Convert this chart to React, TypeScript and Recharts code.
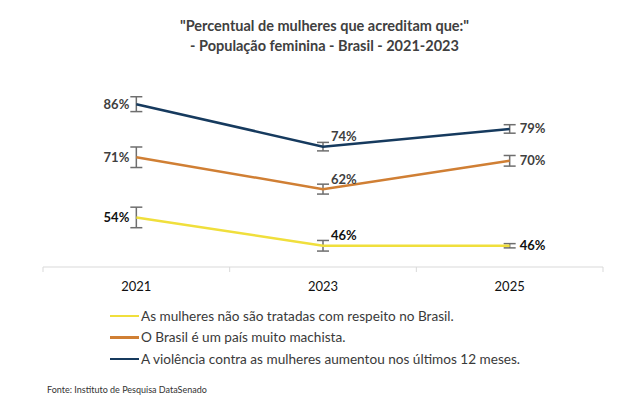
import React from 'react';
import { LineChart, Line, XAxis, YAxis, ErrorBar, LabelList } from 'recharts';

const years = ['2021', '2023', '2025'];
const respeito = [54, 46, 46];
const machista = [71, 62, 70];
const violencia = [86, 74, 79];
const respeitoErr = [2.9, 1.5, 0.6];
const machistaErr = [2.9, 1.4, 1.5];
const violenciaErr = [2.1, 1.2, 1.2];
const seriesNames = [
  'As mulheres não são tratadas com respeito no Brasil.',
  'O Brasil é um país muito machista.',
  'A violência contra as mulheres aumentou nos últimos 12 meses.',
];
const colors = ['#f0df3c', '#d07f34', '#163a5e'];
const labelColors = ['#111111', '#404040', '#404040'];

const data = years.map((y, i) => ({
  year: y,
  s0: respeito[i],
  s1: machista[i],
  s2: violencia[i],
  e0: respeitoErr[i],
  e1: machistaErr[i],
  e2: violenciaErr[i],
}));

const FONT = 'Lato, "Open Sans", sans-serif';
const PLOT_LEFT = 43;
const PLOT_RIGHT = 603;
const BAND = (PLOT_RIGHT - PLOT_LEFT) / years.length;

const makeLabel = (color: string) => (props: any) => {
  const { x, y, index, value } = props;
  let tx = x, ty = y, anchor: any = 'start';
  if (index === 0) { tx = x - 7; ty = y; anchor = 'end'; }
  else if (index === 1) { tx = x + 8; ty = y - 10; anchor = 'start'; }
  else { tx = x + 10; ty = y; anchor = 'start'; }
  return (
    <text x={tx} y={ty} dy="0.35em" textAnchor={anchor} fontFamily={FONT} fontSize={13} fontWeight={700} fill={color}>
      {value}%
    </text>
  );
};

const Tick = (props: any) => {
  const { x, payload, index } = props;
  return (
    <g>
      <line x1={x - BAND / 2} x2={x - BAND / 2} y1={267} y2={272} stroke="#d9d9d9" />
      {index === years.length - 1 && (
        <line x1={x + BAND / 2} x2={x + BAND / 2} y1={267} y2={272} stroke="#d9d9d9" />
      )}
      <text x={x} y={291} textAnchor="middle" fontFamily={FONT} fontSize={13} fill="#111">
        {payload.value}
      </text>
    </g>
  );
};

export default function App() {
  return (
    <div style={{ position: 'absolute', left: 0, top: 0, width: 631, height: 399, background: '#fff', fontFamily: FONT }}>
      <div style={{ position: 'absolute', left: 0, width: 649, top: 16, textAlign: 'center', fontSize: 14.5, fontWeight: 700, color: '#404040', lineHeight: '20px' }}>
        <div>"Percentual de mulheres que acreditam que:"</div>
        <div>- População feminina - Brasil - 2021-2023</div>
      </div>
      <LineChart width={631} height={399} data={data} margin={{ top: 90, right: 631 - PLOT_RIGHT, left: PLOT_LEFT, bottom: 102 }}>
        <XAxis dataKey="year" scale="band" axisLine={{ stroke: '#d9d9d9' }} tickLine={false} height={30} tick={<Tick />} interval={0} />
        <YAxis hide domain={[40, 90]} />
        {[0, 1, 2].map((k) => (
          <Line key={k} type="linear" dataKey={`s${k}`} stroke={colors[k]} strokeWidth={2.5} dot={false} isAnimationActive={false}>
            <ErrorBar dataKey={`e${k}`} width={6} stroke="#6e6e6e" strokeWidth={1.5} direction="y" />
            <LabelList dataKey={`s${k}`} content={makeLabel(labelColors[k])} />
          </Line>
        ))}
      </LineChart>
      <div style={{ position: 'absolute', left: 110, top: 305 }}>
        {seriesNames.map((n, i) => (
          <div key={i} style={{ display: 'flex', alignItems: 'center', height: 21.5, fontSize: 13.6, color: '#3a3a3a' }}>
            <div style={{ width: 29, height: 2.5, background: colors[i], marginRight: 2 }} />
            <span>{n}</span>
          </div>
        ))}
      </div>
      <div style={{ position: 'absolute', left: 47, top: 384, fontSize: 9, color: '#333' }}>
        Fonte: Instituto de Pesquisa DataSenado
      </div>
    </div>
  );
}
